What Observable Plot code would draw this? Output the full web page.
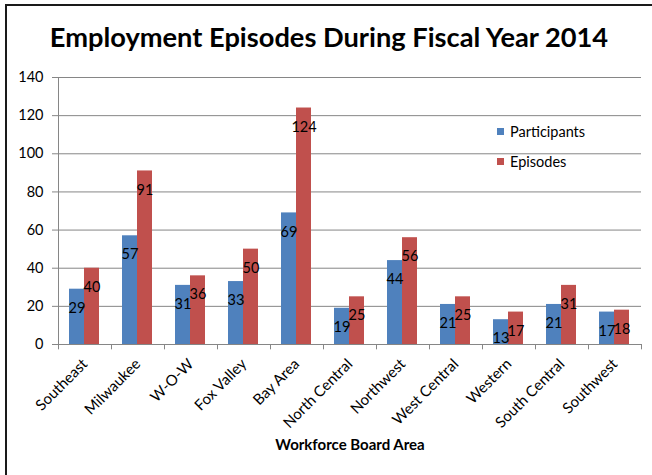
<!DOCTYPE html>
<html><head><meta charset="utf-8">
<script src="https://cdn.jsdelivr.net/npm/d3@7"></script>
<script src="https://cdn.jsdelivr.net/npm/@observablehq/plot@0.6"></script>
<style>
body{margin:0;background:#fff;}
#chart{position:relative;width:652px;height:475px;overflow:hidden;font-family:Lato,sans-serif;background:#fff;}
#border{position:absolute;left:5px;top:4px;right:-10px;bottom:-10px;border-left:2px solid #1a1a1a;border-top:2px solid #1a1a1a;}
#title{position:absolute;left:0;width:658px;top:23px;text-align:center;font-weight:bold;font-size:26px;line-height:28px;color:#000;white-space:nowrap;}
#plot{position:absolute;left:0;top:0;}
#legend{position:absolute;left:497px;top:121px;font-size:14.5px;color:#000;}
.item{display:flex;align-items:center;height:20px;margin-bottom:10px;}
.sw{width:7px;height:7px;margin-right:6px;}
</style></head>
<body>
<div id="chart"><div id="border"></div><div id="plot"></div><div id="title"></div><div id="legend"></div></div>
<script>
const chartTitle = "Employment Episodes During Fiscal Year 2014";
const xAxisTitle = "Workforce Board Area";
const categories = ["Southeast","Milwaukee","W-O-W","Fox Valley","Bay Area","North Central","Northwest","West Central","Western","South Central","Southwest"];
const participants = [29,57,31,33,69,19,44,21,13,21,17];
const episodes = [40,91,36,50,124,25,56,25,17,31,18];
const seriesNames = ["Participants","Episodes"];
const seriesColors = ["#4F81BD","#C0504D"];
const yTicks = [0,20,40,60,80,100,120,140];

const rows = categories.map((c,i)=>({category:c, participants:participants[i], episodes:episodes[i]}));
const grid = "#868686";

const titleEl = document.getElementById("title");
titleEl.textContent = chartTitle;
// fit title width to the reference (~560px)
const ctx = document.createElement("canvas").getContext("2d");
ctx.font = "bold 26px Lato";
const w = ctx.measureText(chartTitle).width;
titleEl.style.fontSize = (26*560/w).toFixed(2)+"px";

const chart = Plot.plot({
  width:652, height:475,
  marginLeft:58, marginRight:11, marginTop:77, marginBottom:131,
  style:{fontFamily:"Lato, sans-serif", fontSize:"14px", color:"#000", background:"transparent", overflow:"visible"},
  x:{domain:categories, padding:0},
  y:{domain:[0,140]},
  marks:[
    Plot.gridY(yTicks, {stroke:grid, strokeOpacity:1}),
    Plot.frame({anchor:"left", stroke:grid}),
    Plot.ruleY([0], {stroke:grid}),
    Plot.axisY(yTicks, {tickSize:6, tickPadding:9, stroke:grid, fill:"#000", fontSize:14.5, label:null, tickFormat:d=>String(d)}),
    Plot.ruleX(categories, {x:d=>d, y1:0, y2:-2.8, dx:-26.5, stroke:grid}),
    Plot.ruleX([categories[categories.length-1]], {x:d=>d, y1:0, y2:-2.8, dx:26.5, stroke:grid}),
    Plot.axisX({tickSize:0, tickPadding:17, tickRotate:-45, fill:"#000", fontSize:15, label:null}),
    Plot.barY(rows, {x:"category", y:"participants", fill:seriesColors[0], insetLeft:11, insetRight:27}),
    Plot.barY(rows, {x:"category", y:"episodes", fill:seriesColors[1], insetLeft:26, insetRight:12}),
    Plot.text(rows, {x:"category", y:"participants", text:d=>String(d.participants), dx:-8, dy:19, fontSize:14.5, fill:"#000"}),
    Plot.text(rows, {x:"category", y:"episodes", text:d=>String(d.episodes), dx:7, dy:19, fontSize:14.5, fill:"#000"}),
    Plot.text([xAxisTitle], {text:d=>d, frameAnchor:"bottom", dy:105, fontWeight:"bold", fontSize:15, fill:"#000"})
  ]
});
document.getElementById("plot").appendChild(chart);

const legend = document.getElementById("legend");
seriesNames.forEach((n,i)=>{
  const it = document.createElement("div"); it.className="item";
  const sw = document.createElement("div"); sw.className="sw"; sw.style.background=seriesColors[i];
  const t = document.createElement("span"); t.textContent=n;
  it.appendChild(sw); it.appendChild(t); legend.appendChild(it);
});
</script>
</body></html>
